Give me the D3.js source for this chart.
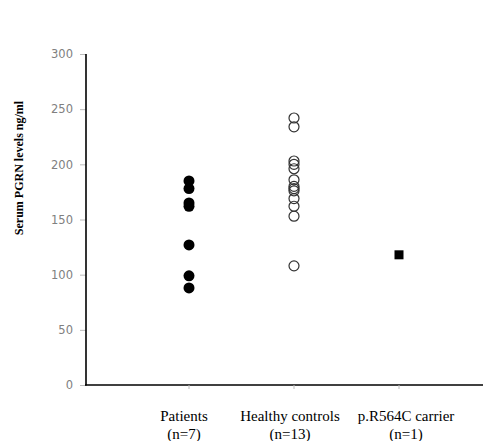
<!DOCTYPE html>
<html>
<head>
<meta charset="utf-8">
<script src="https://cdn.jsdelivr.net/npm/d3@7"></script>
<style>
  body { margin: 0; background: #fff; }
  svg { display: block; }
</style>
</head>
<body>
<svg id="chart" width="483" height="441"></svg>
<script>
const categories = ['Patients', 'Healthy controls', 'p.R564C carrier'];
const groupSizes = ['(n=7)', '(n=13)', '(n=1)'];
const patients = [185, 178, 165, 162, 127, 99, 88];
const controls = [242, 234, 203, 200, 196, 186, 180, 178, 176, 169, 162, 153, 108];
const carrier = [118];
const yTicks = [0, 50, 100, 150, 200, 250, 300];

const svg = d3.select('#chart');

const yScale = d3.scaleLinear().domain([0, 300]).range([385, 54]);
const xScale = d3.scalePoint().domain(categories).range([189, 399]);

// y axis
const yAxis = svg.append('g')
  .attr('transform', 'translate(86,0)')
  .call(d3.axisLeft(yScale).tickValues(yTicks).tickSize(6).tickPadding(7));
yAxis.select('.domain').remove();
yAxis.selectAll('.tick line').attr('stroke', '#bbb');
yAxis.selectAll('.tick text')
  .attr('fill', '#808080')
  .style('font-family', '"DejaVu Sans", sans-serif')
  .style('font-size', '11.5px');

// axis lines
svg.append('line')
  .attr('x1', 86).attr('x2', 86)
  .attr('y1', yScale(300)).attr('y2', yScale(0) + 0.5)
  .attr('stroke', '#000').attr('stroke-width', 1.6);
svg.append('line')
  .attr('x1', 85).attr('x2', 483)
  .attr('y1', yScale(0)).attr('y2', yScale(0))
  .attr('stroke', '#000').attr('stroke-width', 1.6);

// x ticks
svg.selectAll('line.xtick')
  .data(categories)
  .enter()
  .append('line')
  .attr('class', 'xtick')
  .attr('x1', d => xScale(d)).attr('x2', d => xScale(d))
  .attr('y1', yScale(0)).attr('y2', yScale(0) + 4)
  .attr('stroke', '#bbb');

// x labels
const labelShift = [-5, -4, 7];
const labels = svg.selectAll('text.xlab')
  .data(categories)
  .enter()
  .append('text')
  .attr('class', 'xlab')
  .attr('text-anchor', 'middle')
  .style('font-family', '"Liberation Serif", serif')
  .style('font-size', '15px');
labels.append('tspan')
  .attr('x', (d, i) => xScale(d) + labelShift[i]).attr('y', 421)
  .text(d => d);
labels.append('tspan')
  .attr('x', (d, i) => xScale(d) + labelShift[i]).attr('y', 439)
  .text((d, i) => groupSizes[i]);

// y title
svg.append('text')
  .attr('transform', 'translate(23,' + 168 + ') rotate(-90)')
  .attr('text-anchor', 'middle')
  .style('font-family', '"Liberation Serif", serif')
  .style('font-size', '12px')
  .style('font-weight', 'bold')
  .text('Serum PGRN levels ng/ml');

// patients - filled circles
svg.selectAll('circle.pat')
  .data(patients)
  .enter()
  .append('circle')
  .attr('class', 'pat')
  .attr('cx', xScale(categories[0]))
  .attr('cy', d => yScale(d))
  .attr('r', 5.5)
  .attr('fill', '#000');

// controls - open circles
svg.selectAll('circle.ctl')
  .data(controls)
  .enter()
  .append('circle')
  .attr('class', 'ctl')
  .attr('cx', xScale(categories[1]))
  .attr('cy', d => yScale(d))
  .attr('r', 5)
  .attr('fill', 'none')
  .attr('stroke', '#333')
  .attr('stroke-width', 1.2);

// carrier - filled square
svg.selectAll('rect.car')
  .data(carrier)
  .enter()
  .append('rect')
  .attr('class', 'car')
  .attr('x', xScale(categories[2]) - 4.5)
  .attr('y', d => yScale(d) - 4.5)
  .attr('width', 9)
  .attr('height', 9)
  .attr('fill', '#000');
</script>
</body>
</html>
